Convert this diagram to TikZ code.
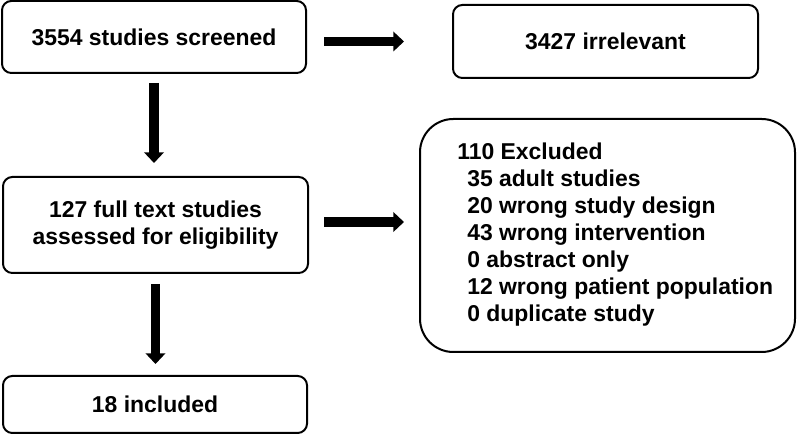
\documentclass[tikz,border=0pt]{standalone}
\usepackage{fontspec}
\setmainfont{Liberation Sans}
\usetikzlibrary{arrows.meta}
\begin{document}
\begin{tikzpicture}[x=0.75pt,y=-0.75pt,
  txt/.style={font=\bfseries\fontsize{17.2pt}{20.25pt}\selectfont},
  box/.style={draw, line width=1.5pt, rounded corners=7pt, align=center, inner sep=0pt, txt},
  bigbox/.style={draw, line width=1.5pt, rounded corners=25pt, inner sep=0pt},
  bigarrow/.style={line width=7pt, -{Triangle[length=8pt,width=14.5pt]}},
]
\useasboundingbox[fill=white] (0,0) rectangle (800,434);
\node[box, minimum width=228pt, minimum height=54pt] (b1) at (154,37) {3554 studies screened};
\node[box, minimum width=228.75pt, minimum height=54.75pt] (b2) at (605.5,41.5) {3427 irrelevant};
\node[box, minimum width=228.75pt, minimum height=72pt] (b3) at (155.5,225) {127 full text studies\\assessed for eligibility};
\node[box, minimum width=228pt, minimum height=42.75pt] (b4) at (155,404.5) {18 included};
\node[bigbox, minimum width=281.25pt, minimum height=174.75pt] (b5) at (607.5,235.5) {};
\node[txt, align=left, anchor=west, inner sep=0pt] (t5) at (457,234.5) {110 Excluded\\
\hspace*{7.5pt}35 adult studies\\
\hspace*{7.5pt}20 wrong study design\\
\hspace*{7.5pt}43 wrong intervention\\
\hspace*{7.5pt}0 abstract only\\
\hspace*{7.5pt}12 wrong patient population\\
\hspace*{7.5pt}0 duplicate study};
\draw[bigarrow, shorten <=12.75pt, shorten >=36pt] (b2.west -| b1.east) -- (b2.west);
\draw[bigarrow, shorten <=11.25pt, shorten >=11.25pt] ([yshift=2.25pt]b3.east) -- ([yshift=2.25pt]b3.east -| b5.west);
\draw[bigarrow, shorten <=6.75pt, shorten >=9.75pt] (b1.south) -- (b1.south |- b3.north);
\draw[bigarrow, shorten <=7.5pt, shorten >=8.25pt] (b3.south) -- (b3.south |- b4.north);
\end{tikzpicture}
\end{document}
